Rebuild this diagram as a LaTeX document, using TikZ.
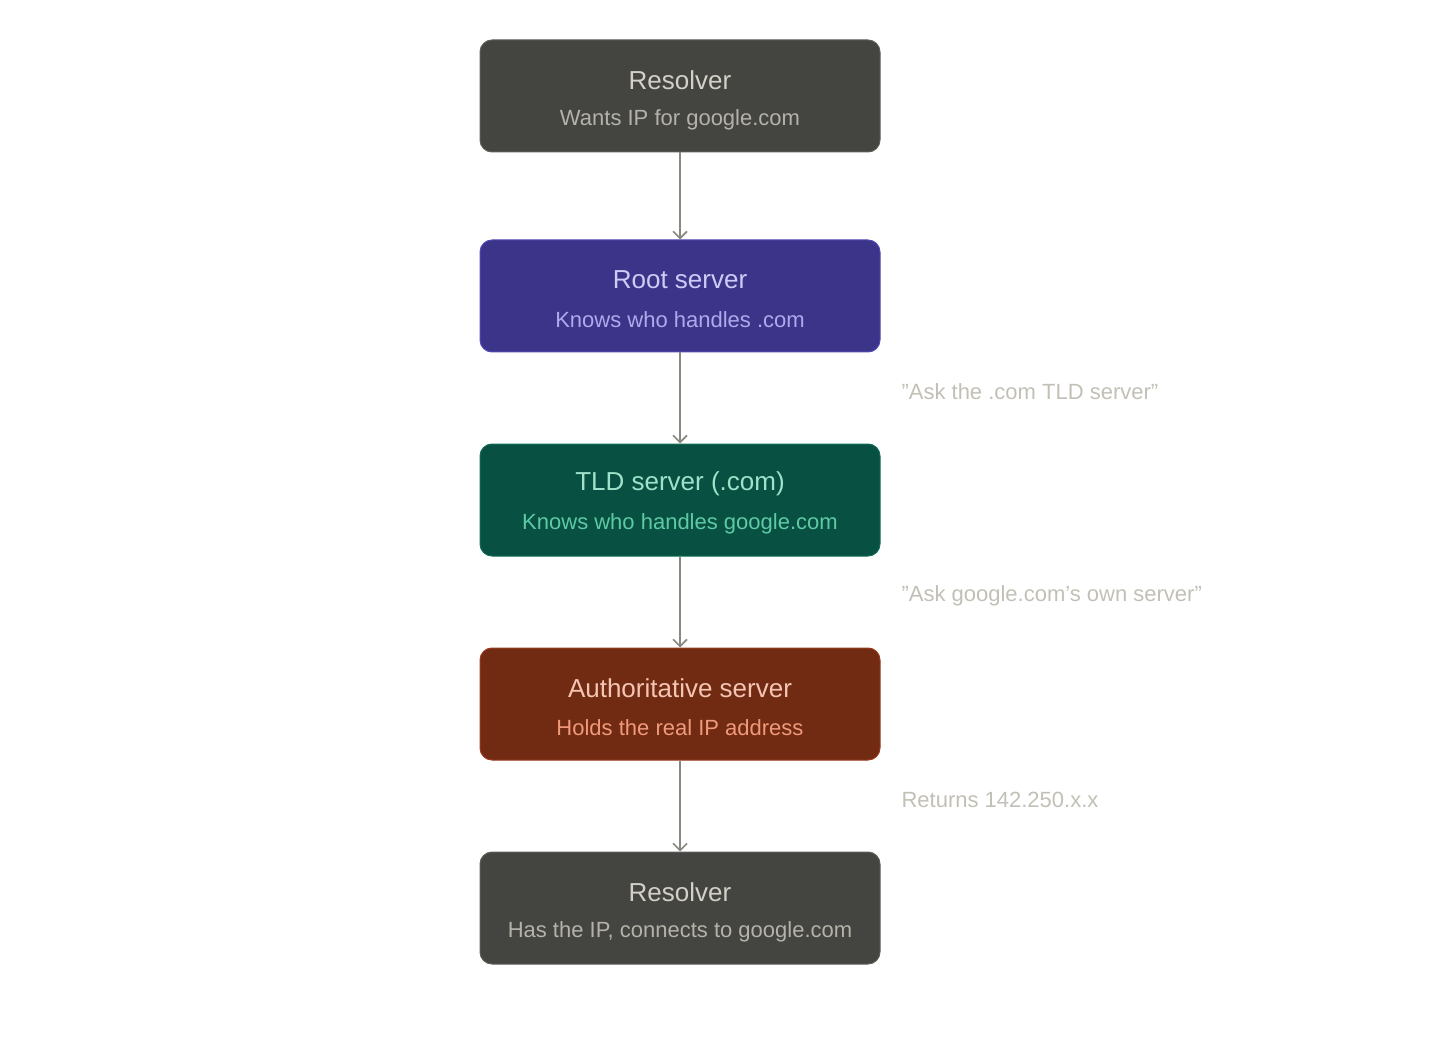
\documentclass[tikz,border=0pt]{standalone}
\usepackage{fontspec}
\setmainfont{Liberation Sans}
\usetikzlibrary{arrows.meta}
\definecolor{gfill}{HTML}{444441}\definecolor{gdraw}{HTML}{5F5E5A}\definecolor{gt}{HTML}{D3D1C7}\definecolor{gs}{HTML}{B4B2A9}
\definecolor{pfill}{HTML}{3C3489}\definecolor{pdraw}{HTML}{534AB7}\definecolor{pt}{HTML}{CECBF6}\definecolor{ps}{HTML}{AFA9EC}
\definecolor{tfill}{HTML}{085041}\definecolor{tdraw}{HTML}{0F6E56}\definecolor{tt}{HTML}{9FE1CB}\definecolor{ts}{HTML}{5DCAA5}
\definecolor{afill}{HTML}{712B13}\definecolor{adraw}{HTML}{993C1D}\definecolor{at}{HTML}{F5C4B3}\definecolor{as}{HTML}{F0997B}
\definecolor{arr}{HTML}{888780}\definecolor{lab}{HTML}{C2C0B6}
\tikzset{
 box/.style={rounded corners=12pt,minimum width=400pt,minimum height=112pt,line width=1pt,inner sep=0pt},
 ttl/.style={font=\fontsize{26}{30}\selectfont},
 sub/.style={font=\fontsize{22}{26}\selectfont},
 lbl/.style={anchor=west,text=lab,font=\fontsize{22}{26}\selectfont},
 conn/.style={draw=arr,line width=2pt,-{Straight Barb[length=7pt,width=14pt,line width=1.6pt]}}
}
\begin{document}
\begin{tikzpicture}[x=1pt,y=-1pt]
\useasboundingbox (0,0) rectangle (1440,1040);
\newcommand\bx[6]{%
 \node[box,fill=#3fill,draw=#3draw] (#1) at (680,#2) {};
 \node[ttl,text=#3t] (#1t) at (680,#2-16) {#4};
 \node[sub,text=#3s] (#1s) at (680,#2+24) {#5};}
\bx{a}{96}{g}{Resolver}{Wants IP for google.com}{}
\bx{b}{296}{p}{Root server}{Knows who handles .com}{}
\bx{c}{500}{t}{TLD server (.com)}{Knows who handles google.com}{}
\bx{d}{704}{a}{Authoritative server}{Holds the real IP address}{}
\bx{e}{908}{g}{Resolver}{Has the IP, connects to google.com}{}
\draw[conn] (a.south) -- (b.north);
\draw[conn] (b.south) -- (c.north);
\draw[conn] (c.south) -- (d.north);
\draw[conn] (d.south) -- (e.north);
\node[lbl] (l1) at (898,392) {"Ask the .com TLD server"};
\node[lbl] (l2) at (898,596) {"Ask google.com's own server"};
\node[lbl] (l3) at (898,800) {Returns 142.250.x.x};
\end{tikzpicture}
\end{document}
